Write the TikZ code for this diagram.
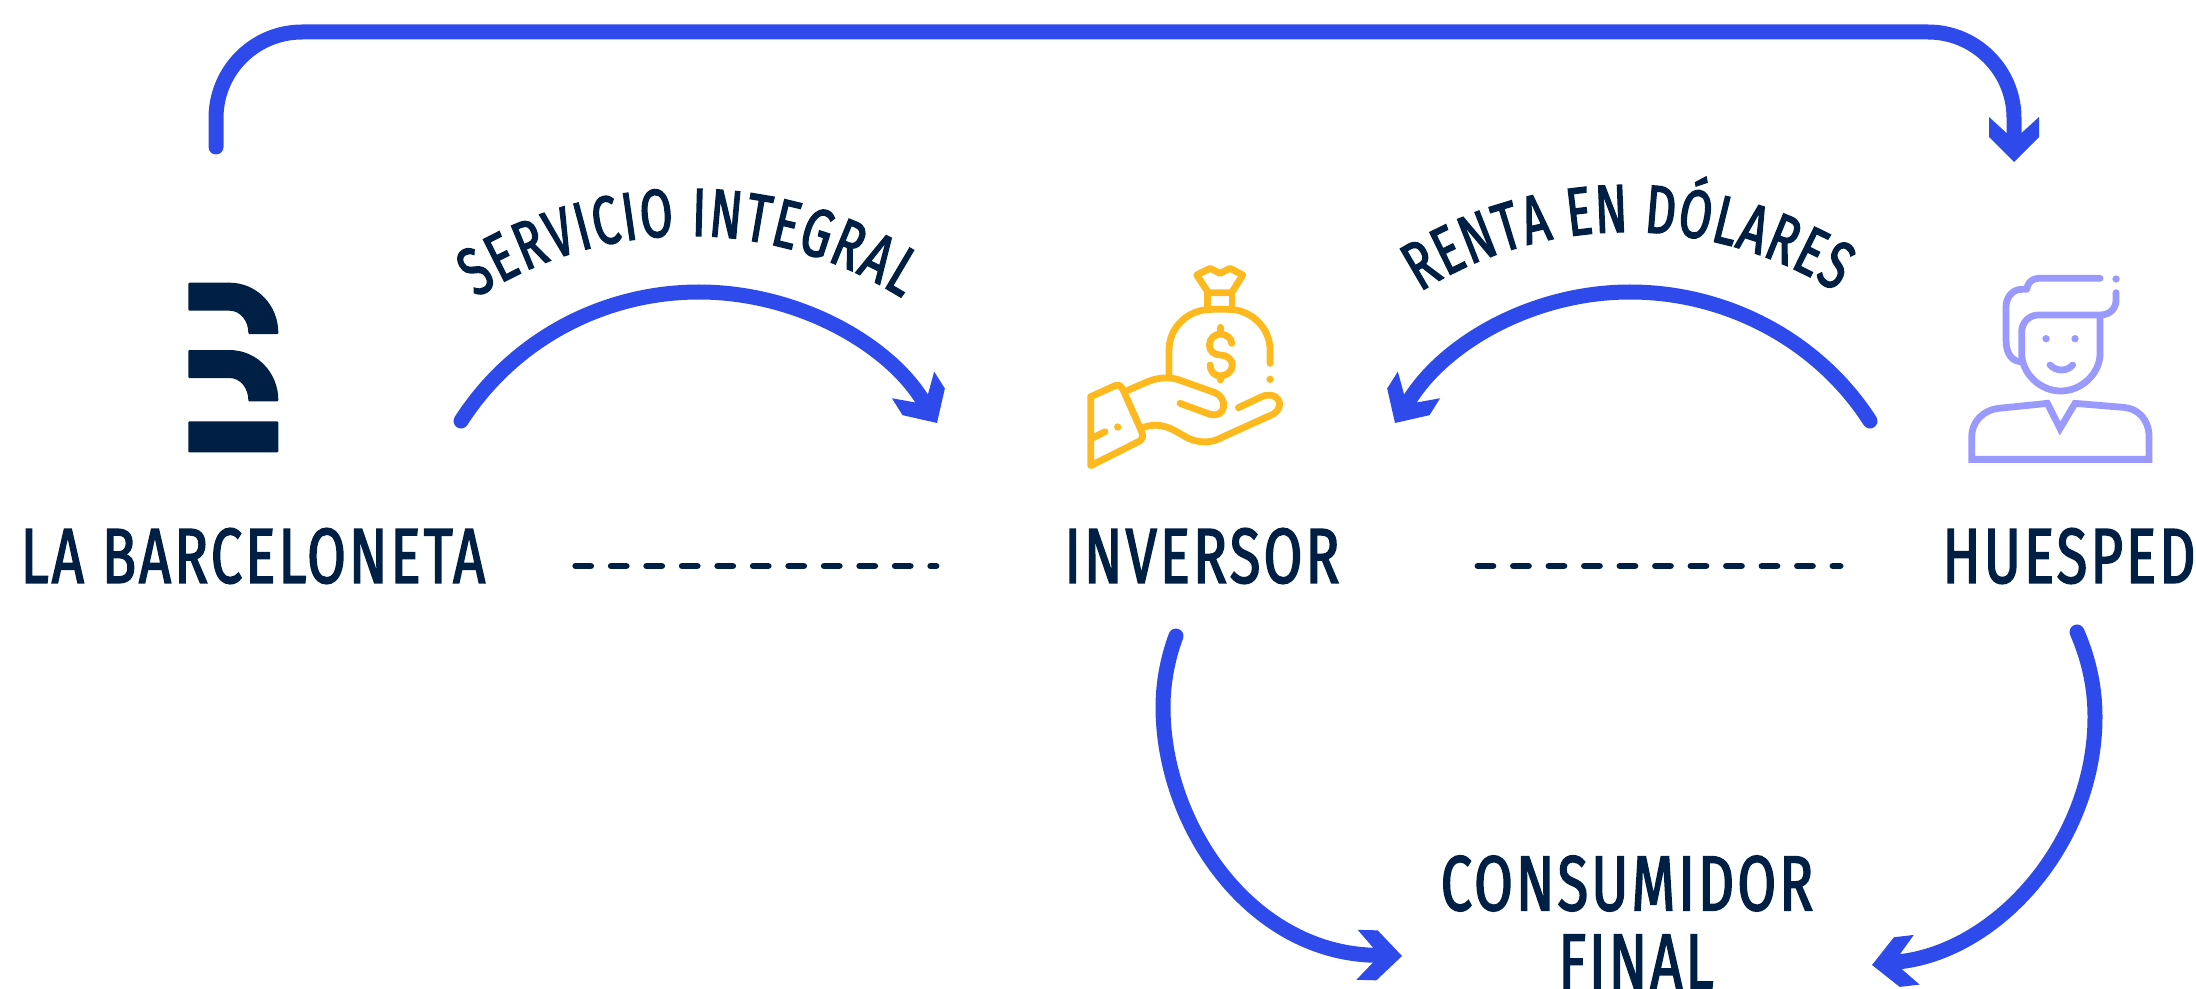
\documentclass[tikz,border=0pt]{standalone}
\usepackage{fontspec}
\usepackage{xcolor}
\usetikzlibrary{arrows.meta,positioning,decorations.text}
\setmainfont{Fira Sans}[FakeStretch=0.72,FakeBold=2,LetterSpace=4]
\newfontfamily\arcfont{Fira Sans}[FakeStretch=0.7,FakeBold=2]
\definecolor{flowblue}{HTML}{2F4AEB}
\definecolor{navy}{HTML}{001F44}
\definecolor{gold}{HTML}{FDB91E}
\definecolor{lilac}{HTML}{9999FF}
\pgfdeclarearrow{
  name = Chev,
  setup code = {
    \pgfarrowssettipend{0pt}
    \pgfarrowssetlineend{-14pt}
    \pgfarrowssetvisualbackend{-22.5pt}
    \pgfarrowssetbackend{-22.5pt}
  },
  drawing code = {
    \pgfpathmoveto{\pgfqpoint{0pt}{0pt}}
    \pgfpathlineto{\pgfqpoint{-12.5pt}{12.5pt}}
    \pgfpathlineto{\pgfqpoint{-22.5pt}{12.5pt}}
    \pgfpathlineto{\pgfqpoint{-14.5pt}{3.75pt}}
    \pgfpathlineto{\pgfqpoint{-14.5pt}{-3.75pt}}
    \pgfpathlineto{\pgfqpoint{-22.5pt}{-12.5pt}}
    \pgfpathlineto{\pgfqpoint{-12.5pt}{-12.5pt}}
    \pgfpathclose
    \pgfusepathqfill
  }
}
\tikzset{
  flow/.style={draw=flowblue, line width=7.5pt, line cap=round, -{Chev}},
  party/.style={text=navy, font=\fontsize{39}{39}\selectfont, inner sep=0pt, align=center},
  dashline/.style={draw=navy, line width=3.4pt, line cap=round, dash pattern=on 7.5pt off 10.25pt},
  icon/.style={line width=3.4pt, line cap=round, line join=round},
  arclabel/.style={decorate, decoration={text along path, text color=navy, text align=fit to path,
      text={|\arcfont\fontsize{34}{34}\selectfont|#1}}}
}
\begin{document}
\begin{tikzpicture}[x=0.5pt, y=-0.5pt]
  \useasboundingbox (0,0) rectangle (2196,989);

  \node[party] (barceloneta) at (253,556) {LA BARCELONETA};
  \node[party] (inversor) at (1202,556) {INVERSOR};
  \node[party] (huesped) at (2069,556) {HUESPED};
  \node[party, text depth=0pt, execute at begin node={\setlength{\baselineskip}{39pt}}] (consumidor) at (1627,922) {CONSUMIDOR\\\hspace*{9pt}FINAL};

  \coordinate (logotop) at (216,147);
  \coordinate (huespedtop) at (2014,162);
  \coordinate (integralfrom) at (461,421);
  \coordinate (integralto) at (937,423);
  \coordinate (rentafrom) at (1870,421);
  \coordinate (rentato) at (1395,423);
  \coordinate (inversorfrom) at (1176,636);
  \coordinate (inversorto) at (1402,956);
  \coordinate (huespedfrom) at (2077,632);
  \coordinate (huespedto) at (1872,965);

  \draw[flow, rounded corners=43pt] (logotop) -- (216,32) -- (2014,32) -- (huespedtop);
  \draw[flow] (integralfrom) .. controls (513,340) and (603,292) .. (699,292) .. controls (795,292) and (886,342) .. (integralto);
  \draw[flow] (rentafrom) .. controls (1818,340) and (1726,292) .. (1630,292) .. controls (1534,292) and (1446,342) .. (rentato);
  \draw[flow] (inversorfrom) .. controls (1167,660) and (1163,685) .. (1163,707) .. controls (1163,825) and (1250,952) .. (inversorto);
  \draw[flow] (huespedfrom) .. controls (2090,662) and (2095,690) .. (2095,717) .. controls (2095,840) and (2000,950) .. (huespedto);

  \draw[dashline, shorten <=45pt, shorten >=64pt] ([yshift=-5pt]barceloneta.east) -- ([yshift=-5pt]inversor.west);
  \draw[dashline, shorten <=69pt, shorten >=51pt] ([yshift=-5pt]inversor.east) -- ([yshift=-5pt]huesped.west);

  \path[arclabel={SERVICIO INTEGRAL}] (476,298) .. controls (606,215) and (770,215) .. (902,298);
  \path[arclabel={RENTA EN DÓLARES}] (1420,292) .. controls (1546,212) and (1708,212) .. (1836,292);

  % logo
  \begin{scope}[shift={(150,260)}, x=0.1667pt, y=-0.1667pt]
    \foreach \dy in {0,202} {
      \fill[navy, rounded corners=0.5pt] (115,68+\dy) -- (235,68+\dy) .. controls (320,68+\dy) and (385,135+\dy) .. (385,222+\dy) -- (295,222+\dy) .. controls (295,185+\dy) and (273,152+\dy) .. (235,152+\dy) -- (115,152+\dy) -- cycle;
    }
    \fill[navy, rounded corners=0.5pt] (115,484) rectangle (385,577);
  \end{scope}

  % money bag
  \begin{scope}[shift={(1020,240)}, x=0.1667pt, y=-0.1667pt, icon, draw=gold, fill=gold]
    \draw (530,105) -- (570,85) -- (600,100) -- (630,85) -- (668,105) -- (635,158) -- (565,158) -- cycle;
    \draw (562,158) -- (562,208) (636,158) -- (636,208);
    \draw (447,405) -- (447,330) .. controls (447,265) and (500,208) .. (575,208) -- (625,208) .. controls (695,208) and (750,265) .. (750,330) -- (750,370);
    \fill (750,418) circle[radius=11];
    \draw (601,262) -- (601,282) (601,408) -- (601,420);
    \draw (635,310) .. controls (635,295) and (618,282) .. (601,282) .. controls (585,282) and (568,295) .. (568,315) .. controls (568,335) and (585,345) .. (601,345) .. controls (620,345) and (637,358) .. (637,375) .. controls (637,395) and (618,408) .. (601,408) .. controls (585,408) and (570,395) .. (570,375);
    \draw (325,450) -- (385,424) .. controls (415,412) and (450,410) .. (478,420) -- (585,458) .. controls (625,475) and (618,535) .. (570,523) -- (480,490);
    \draw (655,503) -- (725,470) .. controls (770,450) and (800,495) .. (760,522) -- (610,590) .. controls (575,610) and (540,610) .. (505,595) -- (470,575) .. controls (435,555) and (405,550) .. (370,562);
    \draw (212,677) -- (212,470) -- (285,437) .. controls (297,432) and (305,440) .. (308,447) -- (365,575) .. controls (372,590) and (365,600) .. (355,605) -- cycle;
    \draw (215,595) -- (255,575);
    \fill (293,561) circle[radius=11];
  \end{scope}

  % guest
  \begin{scope}[shift={(1940,250)}, x=0.1667pt, y=-0.1667pt, icon, draw=lilac, fill=lilac]
    \draw (480,85) -- (295,85) .. controls (275,85) and (262,100) .. (260,118) -- (245,118) .. controls (215,118) and (198,145) .. (198,170) -- (198,270) .. controls (198,310) and (215,335) .. (245,335);
    \fill (528,87) circle[radius=11];
    \draw (528,128) -- (528,150) .. controls (528,175) and (510,195) .. (480,195) -- (295,195) .. controls (265,195) and (245,220) .. (245,245) -- (245,310) .. controls (245,370) and (300,423) .. (362,423) .. controls (425,423) and (480,370) .. (480,310) -- (480,195);
    \fill (318,266) circle[radius=11] (405,266) circle[radius=11];
    \draw (330,345) .. controls (350,365) and (380,365) .. (398,345);
    \draw[line join=miter, line cap=butt] (95,628) -- (627,628) -- (627,560) .. controls (627,510) and (595,475) .. (550,472) -- (405,460) -- (360,535) -- (322,460) -- (175,475) .. controls (130,480) and (95,515) .. (95,560) -- cycle;
  \end{scope}
\end{tikzpicture}
\end{document}
